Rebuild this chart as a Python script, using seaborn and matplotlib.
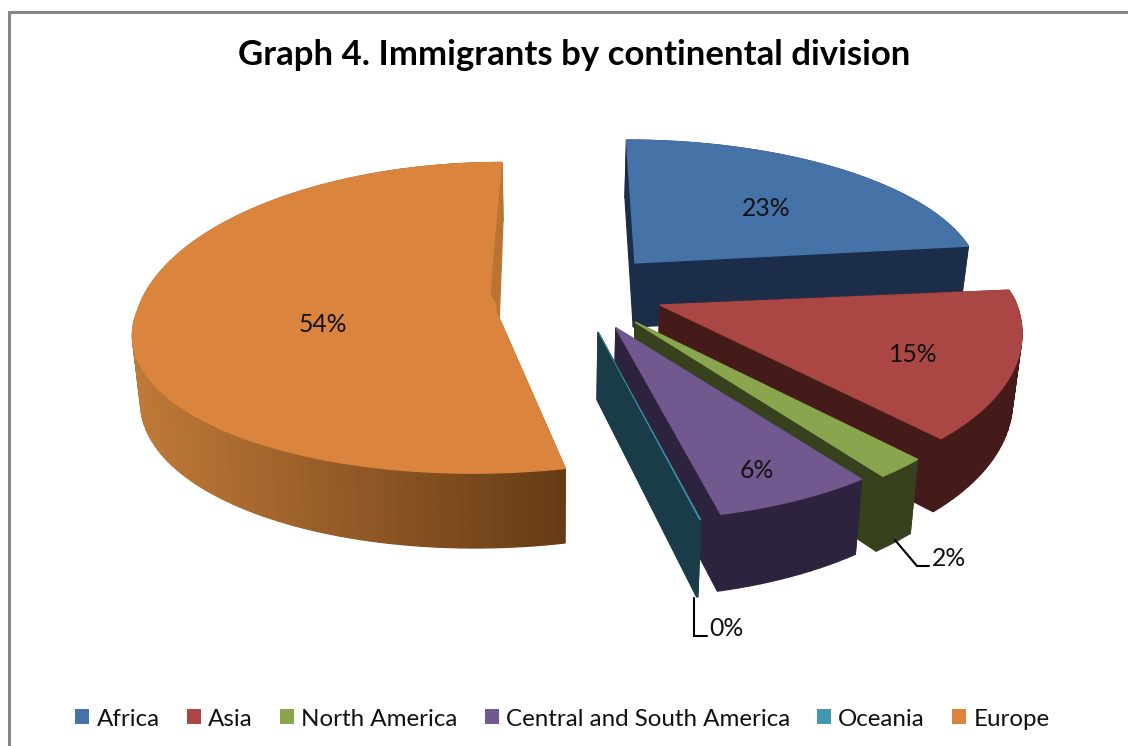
import numpy as np
import matplotlib
matplotlib.use("Agg")
import matplotlib.pyplot as plt
from matplotlib.patches import Patch
from matplotlib.colors import to_rgb
import seaborn as sns

# Share of immigrants per continental division, in percent
divisions = ["Africa", "Asia", "North America", "Central and South America", "Oceania", "Europe"]
shares = [23.0, 15.0, 2.0, 6.3, 0.05, 53.65]

top_colors = ["#4572A7", "#AA4643", "#89A54E", "#71588F", "#4198AF", "#DB843D"]
wall_colors = ["#1B2D48", "#441B19", "#37411D", "#2E233F", "#193C48", "#C07A38"]
europe_wall_dark = "#653A15"
europe_cut_face = "#B97434"

# Pie-plane offset of each slice, how far its rim reaches behind / in front of its apex,
# and how much the front of the rim leans to the left
explode_x = [0.249, 0.311, 0.238, 0.184, 0.1345, -0.148]
explode_y = [0.351, 0.089, -0.012, -0.046, -0.070, 0.0535]
reach_back = [0.885, 0.72, 1.0, 1.0, 1.0, 1.0]
reach_front = [1.0, 1.0, 1.0, 0.975, 0.975, 0.86]
front_lean = [0, 0, 0, 0, 0, 0.04]
radius = [0.99, 1.0, 1.0, 1.0, 1.0, 1.0]

# Camera of the tilted pie
CX, CY, SCALE_X, SCALE_Y, PERSPECTIVE = 549, 320, 361, 170, 0.13
DEPTH, BASE_SHRINK = 67, 0.98

# Where the percentages sit, and the drawing order from the back to the front
label_pos = [(766, 209), (913, 354), (949, 559), (757, 471), (726, 628), (323, 325)]
draw_order = [0, 5, 1, 2, 3, 4]


def project(x, y):
    w = 1 + PERSPECTIVE * y
    return CX + SCALE_X * x / w, CY - SCALE_Y * y / w


def project_base(x, y):
    sx, sy = project(x, y)
    w = 1 + PERSPECTIVE * y
    return CX + (sx - CX) * BASE_SHRINK, sy + DEPTH / w


sns.set_theme(style="white", rc={"savefig.facecolor": "white"})
plt.rcParams["font.family"] = ["Lato", "DejaVu Sans"]
palette = sns.color_palette(top_colors)

fig = plt.figure(figsize=(11.28, 7.46), dpi=100)
ax = fig.add_axes([0, 0, 1, 1])
ax.set_xlim(0, 1128)
ax.set_ylim(746, 0)
ax.axis("off")

# Chart frame, cropped on the right and at the bottom
ax.plot([8.5, 8.5, 1128], [746, 11.5, 11.5], color="#868686", lw=2.2, solid_joinstyle="miter")

edges = np.concatenate([[0], np.cumsum(shares)]) / sum(shares) * 360


def outline(i):
    steps = max(2, int((edges[i + 1] - edges[i]) / 1.5))
    theta = np.radians(np.linspace(edges[i], edges[i + 1], steps))
    rel_y = np.cos(theta)
    lean = front_lean[i] * np.clip(rel_y, None, 0)
    rel_y = rel_y * np.where(rel_y > 0, reach_back[i], reach_front[i])
    xs = explode_x[i] + radius[i] * np.sin(theta) + lean
    ys = explode_y[i] + radius[i] * rel_y
    return np.r_[explode_x[i], xs], np.r_[explode_y[i], ys]


def draw_slice(i):
    xs, ys = outline(i)
    n = len(xs)
    quads = []
    for a in range(n):
        b = (a + 1) % n
        quads.append(((ys[a] + ys[b]) / 2, a, b))
    light = np.array(to_rgb(wall_colors[i]))
    dark = np.array(to_rgb(europe_wall_dark))
    for _, a, b in sorted(quads, reverse=True):
        t = project(xs[[a, b]], ys[[a, b]])
        u = project_base(xs[[b, a]], ys[[b, a]])
        color = light
        if divisions[i] == "Europe":
            # The long rim runs from lit on the left to shaded on the right
            mix = np.clip((t[0].mean() - 131) / (567 - 131), 0, 1)
            color = light * (1 - mix) + dark * mix
            if a == n - 1:
                color = np.array(to_rgb(europe_cut_face))
        ax.fill(np.r_[t[0], u[0]], np.r_[t[1], u[1]], color=tuple(color), lw=0.9)
    sx, sy = project(xs, ys)
    ax.fill(sx, sy, color=palette[i], lw=1.0 if shares[i] > 1 else 0.4)
    if divisions[i] == "Europe":
        # Sliver of the far cut face showing beside the apex
        corner = np.array([sx[-1], sy[-1]])
        apex = np.array([sx[0], sy[0]])
        along = lambda f, dx: corner + f * (apex - corner) + np.array([dx, 0])
        sliver = np.array([along(0.02, 0), along(0.46, 1.5), along(0.97, 1), along(0.88, -6), along(0.52, -4)])
        ax.fill(sliver[:, 0], sliver[:, 1], color=europe_cut_face, lw=0)


for i in draw_order:
    draw_slice(i)

# Leader lines for the two thin slices
ax.plot([895, 917, 929], [540, 566, 566], color="black", lw=1.5, solid_joinstyle="miter")
ax.plot([694, 694, 707], [598, 635.5, 635.5], color="black", lw=1.5, solid_joinstyle="miter")

for value, (lx, ly) in zip(shares, label_pos):
    ax.text(lx, ly, f"{value:.0f}%", ha="center", va="center", fontsize=17.8, color="#111111")

ax.text(574, 55, "Graph 4. Immigrants by continental division", ha="center", va="center",
        fontsize=25, fontweight="bold", color="black")

handles = [Patch(facecolor=c, edgecolor="none", label=d) for c, d in zip(palette, divisions)]
ax.legend(handles=handles, ncol=6, loc="center", bbox_to_anchor=(562.5 / 1128, 1 - 719 / 746),
          frameon=False, fontsize=17.4, handlelength=0.58, handleheight=0.58,
          handletextpad=0.29, columnspacing=1.13, borderpad=0, labelcolor="#111111")

fig.savefig("out.png", dpi=100)
